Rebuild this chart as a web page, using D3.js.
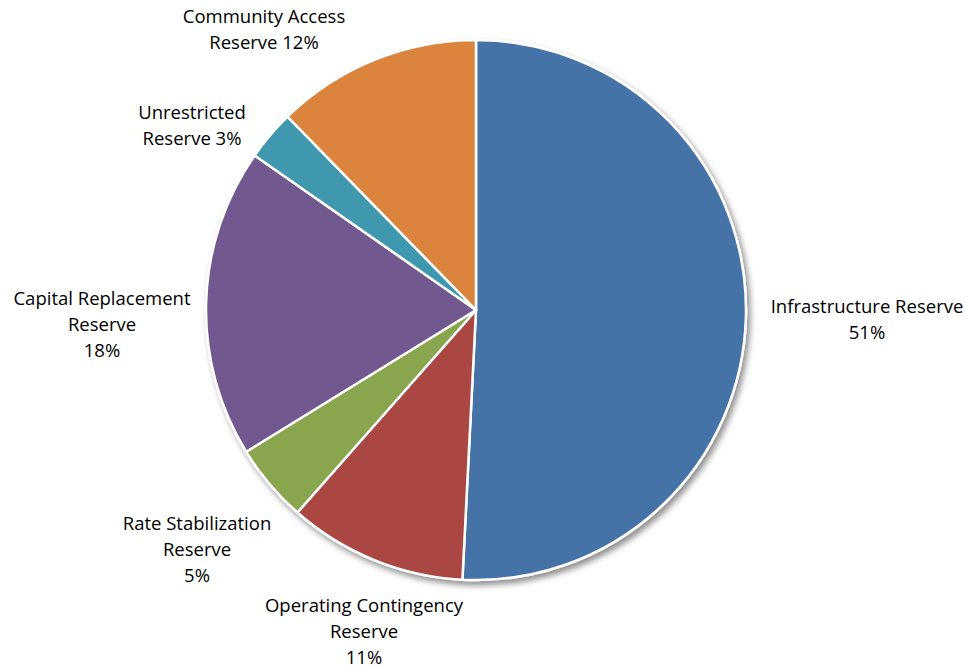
<!DOCTYPE html>
<html><head><meta charset="utf-8">
<script src="https://cdn.jsdelivr.net/npm/d3@7"></script>
<style>html,body{margin:0;padding:0;background:#fff;}svg{display:block;}</style>
</head><body>
<svg id="chart" width="966" height="668"></svg>
<script>
const categories = ["Infrastructure Reserve","Operating Contingency Reserve","Rate Stabilization Reserve","Capital Replacement Reserve","Unrestricted Reserve","Community Access Reserve"];
const values = [50.8, 10.7, 4.7, 18.5, 3.0, 12.3];
const labelLines = [
  ["Infrastructure Reserve","51%"],
  ["Operating Contingency","Reserve","11%"],
  ["Rate Stabilization","Reserve","5%"],
  ["Capital Replacement","Reserve","18%"],
  ["Unrestricted","Reserve 3%"],
  ["Community Access","Reserve 12%"]
];
const colors = ["#4572A7","#AA4643","#89A54E","#71588F","#4198AF","#DB843D"];

// layout (label centres relative to pie centre)
const layout = {cx:476, cy:310, r:270, lineH:26,
  labelPos:[[391,10],[-112,322],[-279,240],[-374,15],[-284,-184],[-212,-280]]};

const svg = d3.select("#chart");
const defs = svg.append("defs");
const f = defs.append("filter").attr("id","sh").attr("x","-10%").attr("y","-10%").attr("width","130%").attr("height","130%");
f.append("feGaussianBlur").attr("in","SourceAlpha").attr("stdDeviation",3).attr("result","b");
f.append("feOffset").attr("in","b").attr("dx",3).attr("dy",4).attr("result","o");
f.append("feComponentTransfer").attr("in","o").attr("result","o2").append("feFuncA").attr("type","linear").attr("slope",0.45);
const m = f.append("feMerge"); m.append("feMergeNode").attr("in","o2"); m.append("feMergeNode").attr("in","SourceGraphic");

const pie = d3.pie().sort(null).value(d=>d);
const arcs = pie(values);
const arc = d3.arc().innerRadius(0).outerRadius(layout.r);
const g = svg.append("g").attr("transform",`translate(${layout.cx},${layout.cy})`);
g.append("g").attr("filter","url(#sh)").selectAll("path").data(arcs).join("path")
  .attr("d",arc).attr("fill",(d,i)=>colors[i]).attr("stroke","#fff").attr("stroke-width",2.5).attr("stroke-linejoin","round");

const lg = g.selectAll("text.lbl").data(arcs).join("text").attr("class","lbl")
  .attr("text-anchor","middle").attr("font-family","'Open Sans', sans-serif").attr("font-size",18.5).attr("fill","#000");
lg.each(function(d,i){
  const lines = labelLines[i];
  const [x,y] = layout.labelPos[i];
  const y0 = y - (lines.length-1)*layout.lineH/2;
  d3.select(this).selectAll("tspan").data(lines).join("tspan")
    .attr("x",x).attr("y",(t,j)=>y0+j*layout.lineH).attr("dy","0.35em").text(t=>t);
});
</script>
</body></html>
